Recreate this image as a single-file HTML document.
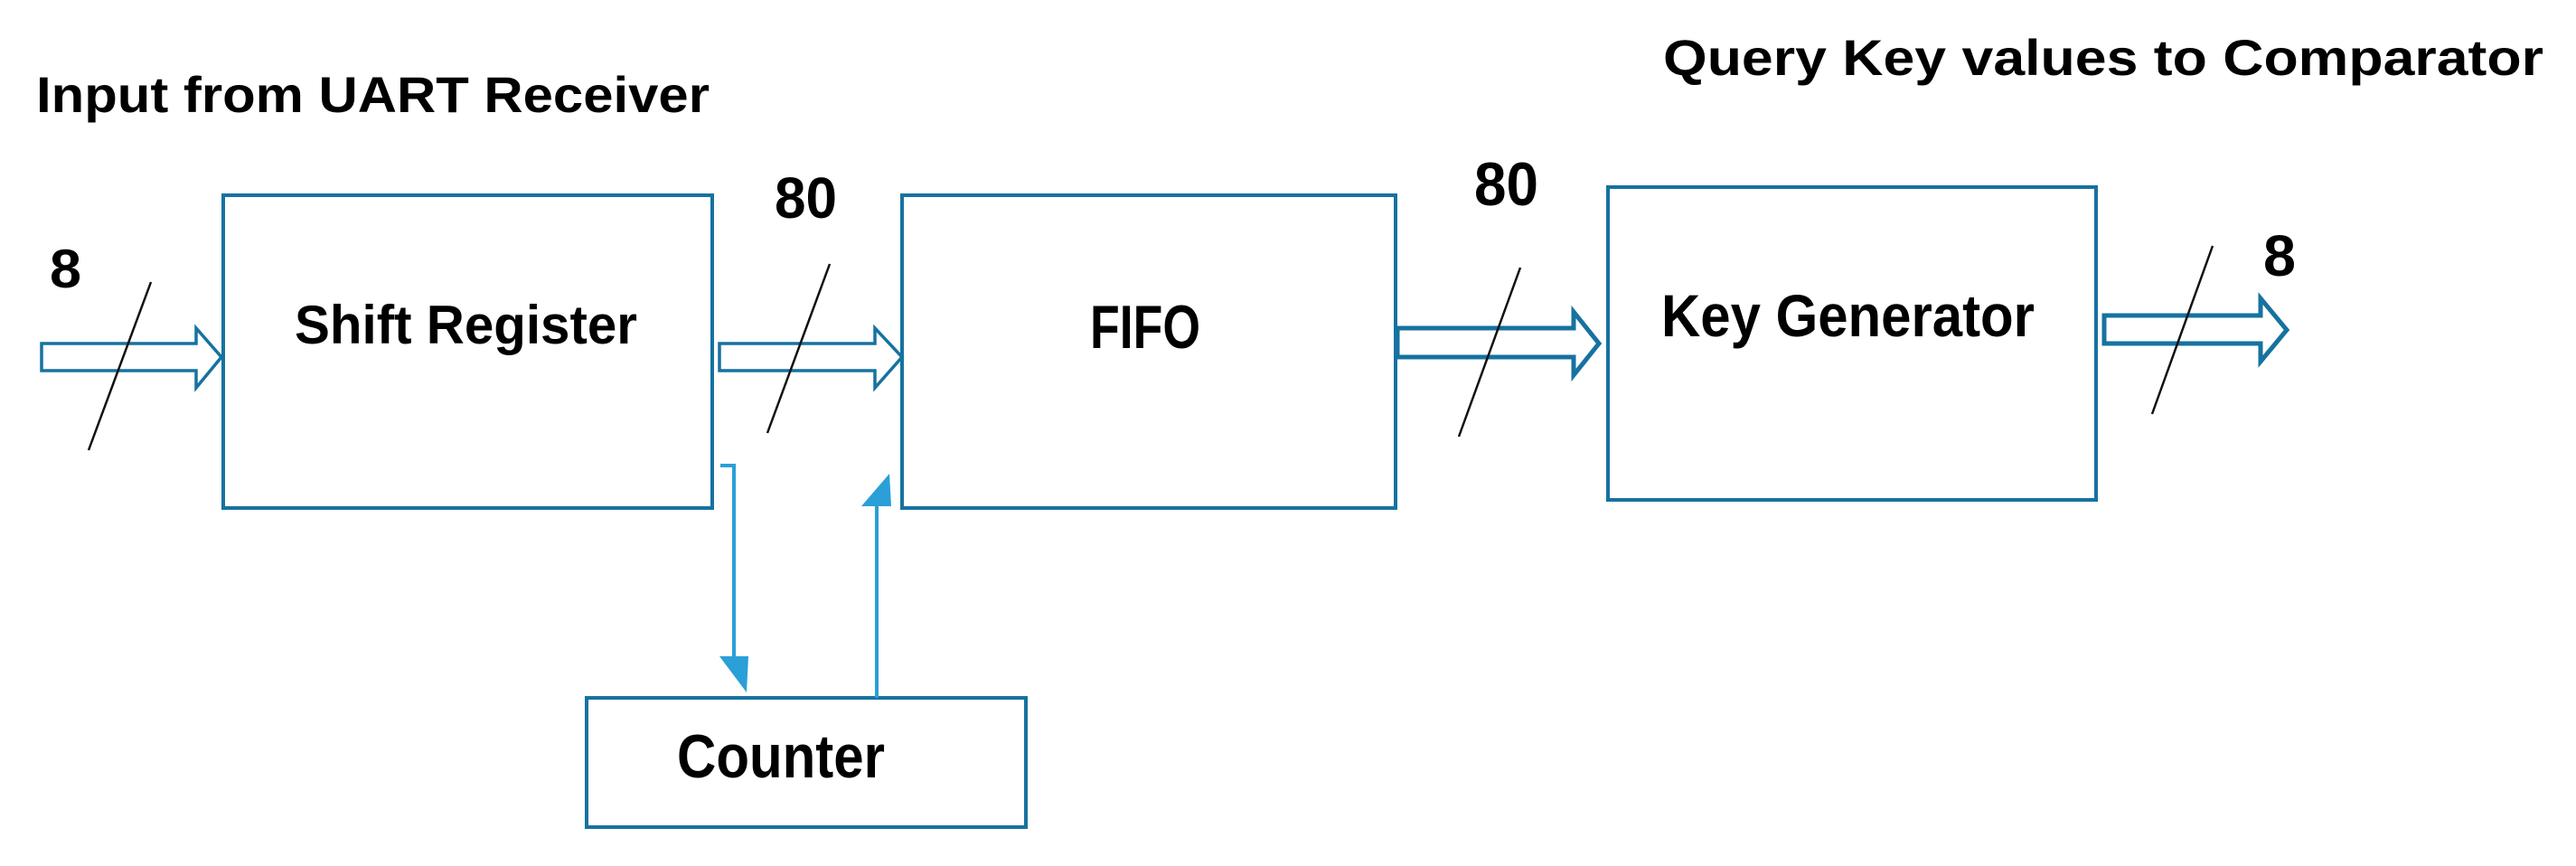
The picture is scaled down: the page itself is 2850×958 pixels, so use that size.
<!DOCTYPE html>
<html><head><meta charset="utf-8"><style>html,body{margin:0;padding:0;background:#fff}svg{display:block}</style></head>
<body>
<svg width="2850" height="958" viewBox="0 0 2850 958" xmlns="http://www.w3.org/2000/svg" font-family="Liberation Sans, sans-serif" font-weight="bold">
<g fill="none" stroke="#1672a0" stroke-width="4">
<rect x="247" y="216" width="541" height="346"/>
<rect x="998" y="216" width="546" height="346"/>
<rect x="1779" y="207" width="540" height="346"/>
<rect x="649" y="772" width="486" height="143"/>
<path d="M46 380 H217 V363 L245 395 L217 429 V410 H46 Z" stroke-width="3.5"/>
<path d="M796 380 H968 V363 L998 395 L968 429 V410 H796 Z" stroke-width="3.5"/>
<path d="M1546 363 H1741 V345 L1769 380 L1741 415 V395 H1546 Z" stroke-width="5"/>
<path d="M2328 349 H2501 V330 L2530 365 L2501 400 V380 H2328 Z" stroke-width="5"/>
</g>
<g stroke="#111" stroke-width="2.5">
<line x1="167" y1="312" x2="98" y2="498"/>
<line x1="918" y1="292" x2="849" y2="479"/>
<line x1="1682" y1="296" x2="1614" y2="483"/>
<line x1="2448" y1="272" x2="2381" y2="458"/>
</g>
<g stroke="#2a9fd8" stroke-width="4" fill="none">
<path d="M797 515 H812 V730"/>
<line x1="970" y1="772" x2="970" y2="560"/>
</g>
<g fill="#2a9fd8">
<polygon points="796,726 828,726 826,766"/>
<polygon points="953,560 986,560 984,524"/>
</g>
<g fill="#000">
<text x="40" y="124" font-size="56" textLength="745" lengthAdjust="spacingAndGlyphs">Input from UART Receiver</text>
<text x="1840" y="83" font-size="56" textLength="974" lengthAdjust="spacingAndGlyphs">Query Key values to Comparator</text>
<text x="55" y="318" font-size="60" textLength="35" lengthAdjust="spacingAndGlyphs">8</text>
<text x="857" y="241" font-size="64" textLength="69" lengthAdjust="spacingAndGlyphs">80</text>
<text x="1631" y="227" font-size="68" textLength="71" lengthAdjust="spacingAndGlyphs">80</text>
<text x="2504" y="305" font-size="64" textLength="36" lengthAdjust="spacingAndGlyphs">8</text>
<text x="326" y="380" font-size="60" textLength="379" lengthAdjust="spacingAndGlyphs">Shift Register</text>
<text x="1206" y="385" font-size="68" textLength="122" lengthAdjust="spacingAndGlyphs">FIFO</text>
<text x="1838" y="372" font-size="66" textLength="413" lengthAdjust="spacingAndGlyphs">Key Generator</text>
<text x="749" y="860" font-size="68" textLength="230" lengthAdjust="spacingAndGlyphs">Counter</text>
</g>
</svg>
</body></html>
